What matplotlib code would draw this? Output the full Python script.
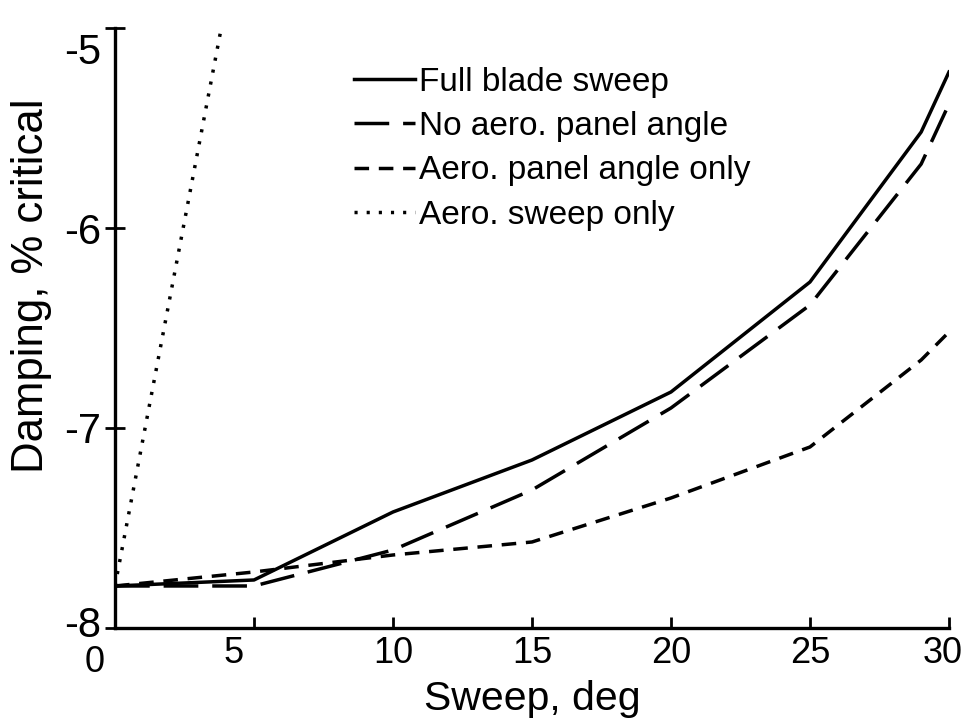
import numpy as np
import matplotlib.pyplot as plt
from matplotlib.transforms import ScaledTranslation

plt.rcParams['font.family'] = ['Liberation Sans', 'DejaVu Sans']

# sweep angle, deg
sweep = [0, 5, 10, 15, 20, 25, 29, 30]
# damping, % critical
full_blade = [-7.79, -7.76, -7.42, -7.16, -6.82, -6.27, -5.52, -5.22]
no_panel = [-7.79, -7.79, -7.61, -7.31, -6.90, -6.385, -5.68, -5.38]
panel_only = [-7.79, -7.72, -7.635, -7.57, -7.35, -7.095, -6.66, -6.52]
sweep_aero = [0, 5]
aero_only = [-7.79, -4.14]

xticks = [0, 5, 10, 15, 20, 25, 30]
yticks = [-8, -7, -6, -5]


def shift(lab, fig, dx, dy):
    # move a tick label by some pixels
    lab.set_transform(lab.get_transform() + ScaledTranslation(dx / 100, dy / 100, fig.dpi_scale_trans))


def plot_damping():
    fig = plt.figure(figsize=(9.64, 7.19), dpi=100)
    ax = fig.add_axes([0.1193, 0.1266, 0.8651, 0.8344])

    lw = 2.5
    ax.plot(sweep, full_blade, color='black', lw=lw, label='Full blade sweep')
    ax.plot(sweep, no_panel, color='black', lw=lw, dashes=[10, 4],
            label='No aero. panel angle')
    ax.plot(sweep, panel_only, color='black', lw=lw, dashes=[4.2, 2.8],
            label='Aero. panel angle only')
    ax.plot(sweep_aero, aero_only, color='black', lw=lw, dashes=[0.9, 2.6],
            label='Aero. sweep only')

    ax.set_xlim(0, 30)
    ax.set_ylim(-8, -5)
    ax.set_xticks(xticks)
    ax.set_yticks(yticks)
    ax.set_xticklabels([str(t) for t in xticks])
    ax.set_yticklabels([str(t) for t in yticks])

    for s in ['top', 'right']:
        ax.spines[s].set_visible(False)
    for s in ['left', 'bottom']:
        ax.spines[s].set_linewidth(2.4)

    ax.tick_params(axis='x', direction='in', length=8, width=2, labelsize=26, pad=6)
    ax.tick_params(axis='y', direction='inout', length=14, width=2, labelsize=30, pad=3)

    # the original's end labels sit a little off their ticks
    xlabs = ax.get_xticklabels()
    shift(xlabs[0], fig, -20, -9)
    shift(xlabs[1], fig, -20, 0)
    shift(xlabs[-1], fig, -6, 0)
    ylabs = ax.get_yticklabels()
    shift(ylabs[0], fig, 0, 6)
    shift(ylabs[-1], fig, 0, -20)

    ax.set_xlabel('Sweep, deg', fontsize=29.5, labelpad=0)
    ax.set_ylabel('Damping, % critical', fontsize=31.5)
    ax.yaxis.set_label_coords(-0.076, 0.57)

    ax.legend(loc='upper left', bbox_to_anchor=(0.27, 0.958), frameon=False,
              fontsize=24, handlelength=1.85, handletextpad=0.1,
              labelspacing=0.4, borderaxespad=0)

    fig.savefig('out.png', dpi=100)


if __name__ == "__main__":
    plot_damping()
